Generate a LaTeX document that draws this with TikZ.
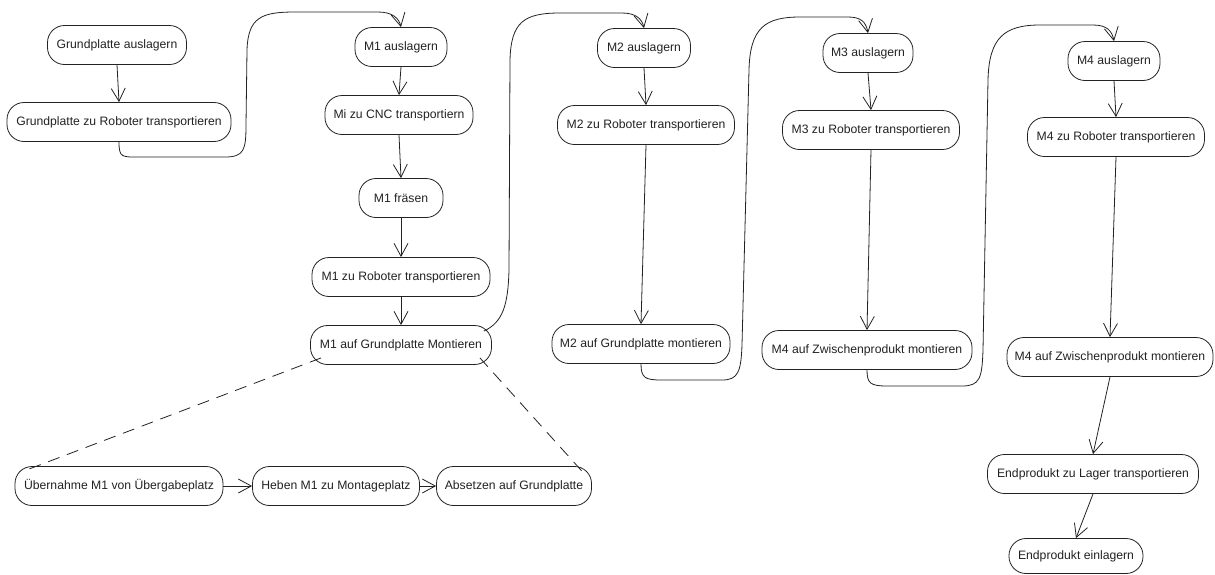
\documentclass[tikz,border=0pt]{standalone}
\usepackage{fontspec}
\setmainfont{Liberation Sans}
\usetikzlibrary{arrows.meta}
\definecolor{ink}{HTML}{222222}
\begin{document}
\begin{tikzpicture}[x=1pt,y=-1pt,
  act/.style={draw=ink, line width=0.8pt, rounded corners=17pt,
    minimum height=39pt, inner sep=2pt, text=ink,
    font=\fontsize{12.2}{14}\selectfont},
  flow/.style={draw=ink, line width=0.8pt,
    -{Straight Barb[length=13pt,width=14pt,line width=0.8pt]}},
  link/.style={draw=ink, line width=0.8pt, dash pattern=on 12pt off 8pt}]
\useasboundingbox (0,0) rectangle (1215,574);

% base plate
\node[act, minimum width=139pt] (ga)  at (117,45)  {Grundplatte auslagern};
\node[act, minimum width=224pt] (gzr) at (119,122) {Grundplatte zu Roboter transportieren};

% part M1
\node[act, minimum width=92pt]  (m1a)   at (401,47)  {M1 auslagern};
\node[act, minimum width=148pt] (m1cnc) at (399,115) {Mi zu CNC transportiern};
\node[act, minimum width=84pt]  (m1f)   at (401,198) {M1 fräsen};
\node[act, minimum width=178pt] (m1zr)  at (401,277) {M1 zu Roboter transportieren};
\node[act, minimum width=181pt] (m1mon) at (401,345) {M1 auf Grundplatte Montieren};

% refinement of the M1 assembly step
\node[act, minimum width=208pt] (ueb) at (119,486) {Übernahme M1 von Übergabeplatz};
\node[act, minimum width=167pt] (heb) at (336,486) {Heben M1 zu Montageplatz};
\node[act, minimum width=155pt] (abs) at (514,486) {Absetzen auf Grundplatte};

% part M2
\node[act, minimum width=93pt]  (m2a)   at (644,48)  {M2 auslagern};
\node[act, minimum width=177pt] (m2zr)  at (646,125) {M2 zu Roboter transportieren};
\node[act, minimum width=178pt] (m2mon) at (641,344) {M2 auf Grundplatte montieren};

% part M3
\node[act, minimum width=90pt]  (m3a)   at (868,53)  {M3 auslagern};
\node[act, minimum width=177pt] (m3zr)  at (871,130) {M3 zu Roboter transportieren};
\node[act, minimum width=210pt] (m3mon) at (867,350) {M4 auf Zwischenprodukt montieren};

% part M4 and final product
\node[act, minimum width=92pt]  (m4a)    at (1114,61)  {M4 auslagern};
\node[act, minimum width=177pt] (m4zr)   at (1116,137) {M4 zu Roboter transportieren};
\node[act, minimum width=206pt] (m4mon)  at (1110,357) {M4 auf Zwischenprodukt montieren};
\node[act, minimum width=211pt] (endzl)  at (1093,474) {Endprodukt zu Lager transportieren};
\node[act, minimum width=134pt, minimum height=35pt] (endein) at (1076,556) {Endprodukt einlagern};

% straight transitions
\draw[flow] (ga.south)    -- (gzr.north);
\draw[flow] (m1a.south)   -- (m1cnc.north);
\draw[flow] (m1cnc.south) -- (m1f.north);
\draw[flow] (m1f.south)   -- (m1zr.north);
\draw[flow] (m1zr.south)  -- (m1mon.north);
\draw[flow] (ueb.east)    -- (heb.west);
\draw[flow] (heb.east)    -- (abs.west);
\draw[flow] (m2a.south)   -- (m2zr.north);
\draw[flow] (m2zr.south)  -- (m2mon.north);
\draw[flow] (m3a.south)   -- (m3zr.north);
\draw[flow] (m3zr.south)  -- (m3mon.north);
\draw[flow] (m4a.south)   -- (m4zr.north);
\draw[flow] (m4zr.south)  -- (m4mon.north);
\draw[flow] (m4mon.south) -- (endzl.north);
\draw[flow] (endzl.south) -- (endein.north);

% looping transitions to the next column
\draw[flow] (gzr.south) .. controls (119,158) and (122,157) .. (140,157)
  -- (225,157) .. controls (244,157) and (246,150) .. (246,125)
  -- (247,50) .. controls (248,17) and (262,12) .. (295,12)
  -- (378,12) .. controls (392,12) and (399,18) .. (m1a.north);
\draw[flow] ([shift={(-8,6)}]m1mon.north east) .. controls (503,322) and (508,305) .. (509,270)
  -- (510,60) .. controls (511,22) and (524,13) .. (560,13)
  -- (622,13) .. controls (636,13) and (642,19) .. (m2a.north);
\draw[flow] (m2mon.south) .. controls (641,378) and (645,380) .. (662,380)
  -- (722,380) .. controls (738,380) and (741,372) .. (742,345)
  -- (749,70) .. controls (750,28) and (765,17) .. (800,17)
  -- (848,17) .. controls (861,17) and (866,22) .. (m3a.north);
\draw[flow] (m3mon.south) .. controls (867,383) and (870,386) .. (887,386)
  -- (962,386) .. controls (980,386) and (982,378) .. (983,350)
  -- (988,80) .. controls (989,38) and (1004,25) .. (1040,25)
  -- (1093,25) .. controls (1107,25) and (1112,31) .. (m4a.north);

% decomposition of the M1 assembly step
\draw[link] ([shift={(11,-7)}]m1mon.south west) -- ([shift={(9,5)}]ueb.north west);
\draw[link] ([shift={(-12,-7)}]m1mon.south east) -- ([shift={(-10,5)}]abs.north east);
\end{tikzpicture}
\end{document}
